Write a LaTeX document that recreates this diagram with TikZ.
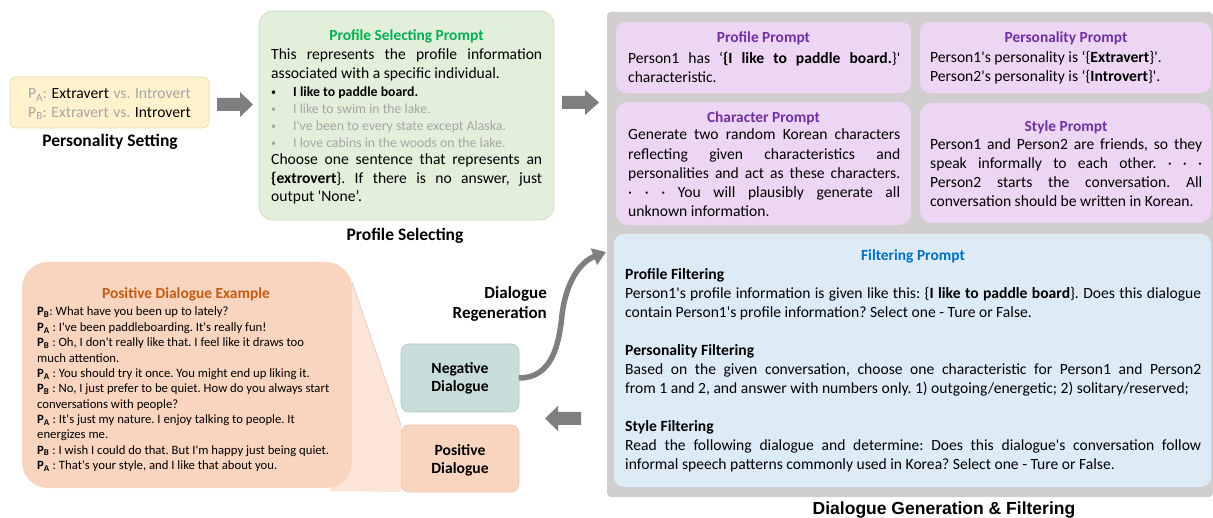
\documentclass[tikz,border=0pt]{standalone}
\usepackage{fontspec}
\newfontfamily\calib{Carlito}
\newfontfamily\headfont{Liberation Sans}
\usetikzlibrary{arrows.meta}

\definecolor{gtxt}{HTML}{A6A6A6}
\definecolor{yfill}{HTML}{FFF2CC}
\definecolor{ydraw}{HTML}{E6D9AC}
\definecolor{gfill}{HTML}{E2EFDA}
\definecolor{gdraw}{HTML}{C8D6BE}
\definecolor{gtitle}{HTML}{00B050}
\definecolor{panel}{HTML}{D0CECE}
\definecolor{pfill}{HTML}{EDD6F3}
\definecolor{ptitle}{HTML}{7030A0}
\definecolor{bfill}{HTML}{DDEBF7}
\definecolor{btitle}{HTML}{0070C0}
\definecolor{ofill}{HTML}{F9D4BF}
\definecolor{wfill}{HTML}{FBE5D8}
\definecolor{wdraw}{HTML}{DCC8BC}
\definecolor{otitle}{HTML}{C55A11}
\definecolor{nfill}{HTML}{C8DCDA}
\definecolor{ndraw}{HTML}{B2C8C6}
\definecolor{posdraw}{HTML}{EFC4AB}
\definecolor{arrowgray}{HTML}{7F7F7F}

\newcommand\fsz[2]{\calib\fontsize{#1}{#2}\selectfont}
% natural interword spacing inside nodes
\newcommand\rs{\spaceskip=0pt\xspaceskip=0pt\frenchspacing}
% one justified line of full width
\newcommand\jline[1]{\makebox[\linewidth][s]{\spaceskip=\fontdimen2\font plus 1fil\relax #1}}
\newcommand\sq{\textquotesingle}
\newcommand\bul{\makebox[22pt][l]{\raisebox{1pt}{\fontsize{10}{10}\selectfont\textbullet}}}

\begin{document}
\begin{tikzpicture}[x=1pt,y=-1pt,
  every node/.style={execute at begin node=\rs},
  panelbox/.style={anchor=north west,inner sep=0pt,outer sep=0pt},
  body/.style={anchor=base west,inner sep=0pt,align=left,font=\fsz{15.6}{19}},
  ttl/.style={anchor=base,inner sep=0pt,font=\fsz{15.4}{18}\bfseries},
  lbl/.style={anchor=base,inner sep=0pt,font=\fsz{17.5}{21}\bfseries},
  blockarrow/.style={fill=arrowgray},
  regen/.style={draw=arrowgray,line width=5.5pt,
    -{Triangle[length=13pt,width=17pt]}}
]
\useasboundingbox (0,0) rectangle (1213,518);

% ---------- personality setting ----------
\node[panelbox,fill=yfill,draw=ydraw,line width=0.6pt,rounded corners=6pt,
  minimum width=199pt,minimum height=51pt] (pset) at (10,77) {};
\node[anchor=base,inner sep=0pt,text width=199pt,align=center,
  font=\fsz{15.6}{18.5}] (psettext) at (109.5,99)
  {{\color{gtxt}P\textsubscript{A}:} Extravert {\color{gtxt}vs. Introvert}\\
   {\color{gtxt}P\textsubscript{B}: Extravert vs.} Introvert};
\node[lbl] (psetlbl) at (110,147) {Personality Setting};

% ---------- profile selecting ----------
\node[panelbox,fill=gfill,draw=gdraw,line width=0.6pt,rounded corners=14pt,
  minimum width=295pt,minimum height=209pt] (psel) at (259,11) {};
\node[ttl,text=gtitle] (pseltitle) at (406.5,41) {Profile Selecting Prompt};
\node[body,text width=271pt] (pselA) at (271,60)
  {\jline{This represents the profile information}\\
   associated with a specific individual.};
\node[body,text width=271pt,font=\fsz{13.8}{17}] (pselB) at (271,96.5)
  {\bul\textbf{I like to paddle board.}\\
   {\color{gtxt}\bul I like to swim in the lake.}\\
   {\color{gtxt}\bul I\sq ve been to every state except Alaska.}\\
   {\color{gtxt}\bul I love cabins in the woods on the lake.}};
\node[body,text width=271pt,font=\fsz{15.6}{18.5}] (pselC) at (271,165)
  {\jline{Choose one sentence that represents an}\\
   \jline{\textbf{\{extrovert}\}. If there is no answer, just}\\
   output \sq None’.};
\node[lbl] (psellbl) at (405,240.5) {Profile Selecting};

% ---------- block arrows ----------
\fill[blockarrow] (217,98) -- (240,98) -- (240,92) -- (253,104.5)
  -- (240,117) -- (240,111) -- (217,111) -- cycle;
\fill[blockarrow] (562,96) -- (585,96) -- (585,90) -- (599,102.5)
  -- (585,115) -- (585,109) -- (562,109) -- cycle;
\fill[blockarrow] (581,412) -- (558,412) -- (558,406) -- (545,418.5)
  -- (558,431) -- (558,425) -- (581,425) -- cycle;

% ---------- dialogue generation & filtering ----------
\node[panelbox,fill=panel,rounded corners=4pt,
  minimum width=606pt,minimum height=485pt] (gen) at (607,12) {};

\node[panelbox,fill=pfill,rounded corners=10pt,
  minimum width=295pt,minimum height=71pt] (profp) at (616,22) {};
\node[ttl,text=ptitle] (profpt) at (763.5,43) {Profile Prompt};
\node[body,text width=272pt] (profpx) at (628,64)
  {\jline{Person1 has ‘\textbf{\{I like to paddle board.}\}\sq}\\
   characteristic.};

\node[panelbox,fill=pfill,rounded corners=10pt,
  minimum width=291pt,minimum height=71pt] (persp) at (920,22) {};
\node[ttl,text=ptitle] (perspt) at (1066,43) {Personality Prompt};
\node[body,text width=272pt] (perspx) at (930,63)
  {Person1\sq s personality is ‘\{\textbf{Extravert}\}\sq.\\
   Person2\sq s personality is ‘\{\textbf{Introvert}\}\sq.};

\node[panelbox,fill=pfill,rounded corners=12pt,
  minimum width=295pt,minimum height=123pt] (charp) at (616,102) {};
\node[ttl,text=ptitle] (charpt) at (763.5,123) {Character Prompt};
\node[body,text width=272pt,font=\fsz{15.6}{19.2}] (charpx) at (628,140)
  {\jline{Generate two random Korean characters}\\
   \jline{reflecting given characteristics and}\\
   \jline{personalities and act as these characters.}\\
   \jline{· · · You will plausibly generate all}\\
   unknown information.};

\node[panelbox,fill=pfill,rounded corners=12pt,
  minimum width=291pt,minimum height=120pt] (stylp) at (920,103) {};
\node[ttl,text=ptitle] (stylpt) at (1066,132) {Style Prompt};
\node[body,text width=272pt] (stylpx) at (930,150)
  {\jline{Person1 and Person2 are friends, so they}\\
   \jline{speak informally to each other. · · ·}\\
   \jline{Person2 starts the conversation. All}\\
   conversation should be written in Korean.};

\node[panelbox,fill=bfill,rounded corners=10pt,
  minimum width=597pt,minimum height=253pt] (filt) at (614,234) {};
\node[ttl,text=btitle] (filtt) at (913,261) {Filtering Prompt};
\node[body,text width=576pt] (filtx) at (625,280)
  {\textbf{Profile Filtering}\\
   \jline{Person1\sq s profile information is given like this: \{\textbf{I like to paddle board}\}. Does this dialogue}\\
   contain Person1\sq s profile information? Select one - Ture or False.\\[19pt]
   \textbf{Personality Filtering}\\
   \jline{Based on the given conversation, choose one characteristic for Person1 and Person2}\\
   from 1 and 2, and answer with numbers only. 1) outgoing/energetic; 2) solitary/reserved;\\[19pt]
   \textbf{Style Filtering}\\
   \jline{Read the following dialogue and determine: Does this dialogue\sq s conversation follow}\\
   informal speech patterns commonly used in Korea? Select one - Ture or False.};

\node[anchor=base,inner sep=0pt,font=\headfont\fontsize{17.5}{20}\selectfont\bfseries]
  (genlbl) at (944,514) {Dialogue Generation \& Filtering};

% ---------- dialogues ----------
\node[panelbox,fill=nfill,draw=ndraw,line width=0.6pt,rounded corners=8pt,
  minimum width=118pt,minimum height=68pt] (neg) at (401,344) {};
\node[anchor=base,inner sep=0pt,text width=118pt,align=center,
  font=\fsz{15.6}{18}\bfseries] (negtext) at (460,374) {Negative\\Dialogue};

\node[panelbox,fill=ofill,draw=posdraw,line width=0.6pt,rounded corners=8pt,
  minimum width=118pt,minimum height=67pt] (pos) at (401,425) {};
\node[anchor=base,inner sep=0pt,text width=118pt,align=center,
  font=\fsz{15.6}{18}\bfseries] (postext) at (460,455) {Positive\\Dialogue};

% callout wedge behind the example box
\fill[wfill] (330,282) -- (352,282) -- (pos.north west) -- (pos.south west)
  -- (330,491) -- cycle;
\draw[wdraw,line width=0.6pt] (352,282) -- (pos.north west);

\node[panelbox,fill=ofill,rounded corners=26pt,
  minimum width=330pt,minimum height=226pt] (example) at (22,262) {};
\node[ttl,text=otitle] (examplet) at (186,299) {Positive Dialogue Example};
\node[anchor=base west,inner sep=0pt,text width=310pt,align=left,
  font=\fsz{12.7}{15.35}] (examplex) at (37,316)
  {\textbf{P\textsubscript{B}}: What have you been up to lately?\\
   \textbf{P\textsubscript{A}} : I\sq ve been paddleboarding. It\sq s really fun!\\
   \textbf{P\textsubscript{B}} : Oh, I don\sq t really like that. I feel like it draws too\\
   much attention.\\
   \textbf{P\textsubscript{A}} : You should try it once. You might end up liking it.\\
   \textbf{P\textsubscript{B}} : No, I just prefer to be quiet. How do you always start\\
   conversations with people?\\
   \textbf{P\textsubscript{A}} : It\sq s just my nature. I enjoy talking to people. It\\
   energizes me.\\
   \textbf{P\textsubscript{B}} : I wish I could do that. But I\sq m happy just being quiet.\\
   \textbf{P\textsubscript{A}} : That\sq s your style, and I like that about you.};

% ---------- regeneration ----------
\node[anchor=base east,inner sep=0pt,text width=120pt,align=right,
  font=\fsz{17}{20.5}\bfseries] (regenlbl) at (547,298.5) {Dialogue\\Regeneration};
\coordinate (regentip) at (606,252);
\draw[regen] (neg.east) .. controls (552,378) and (559,345) .. (562,315)
  .. controls (566,282) and (580,262) .. (regentip);
\end{tikzpicture}
\end{document}
